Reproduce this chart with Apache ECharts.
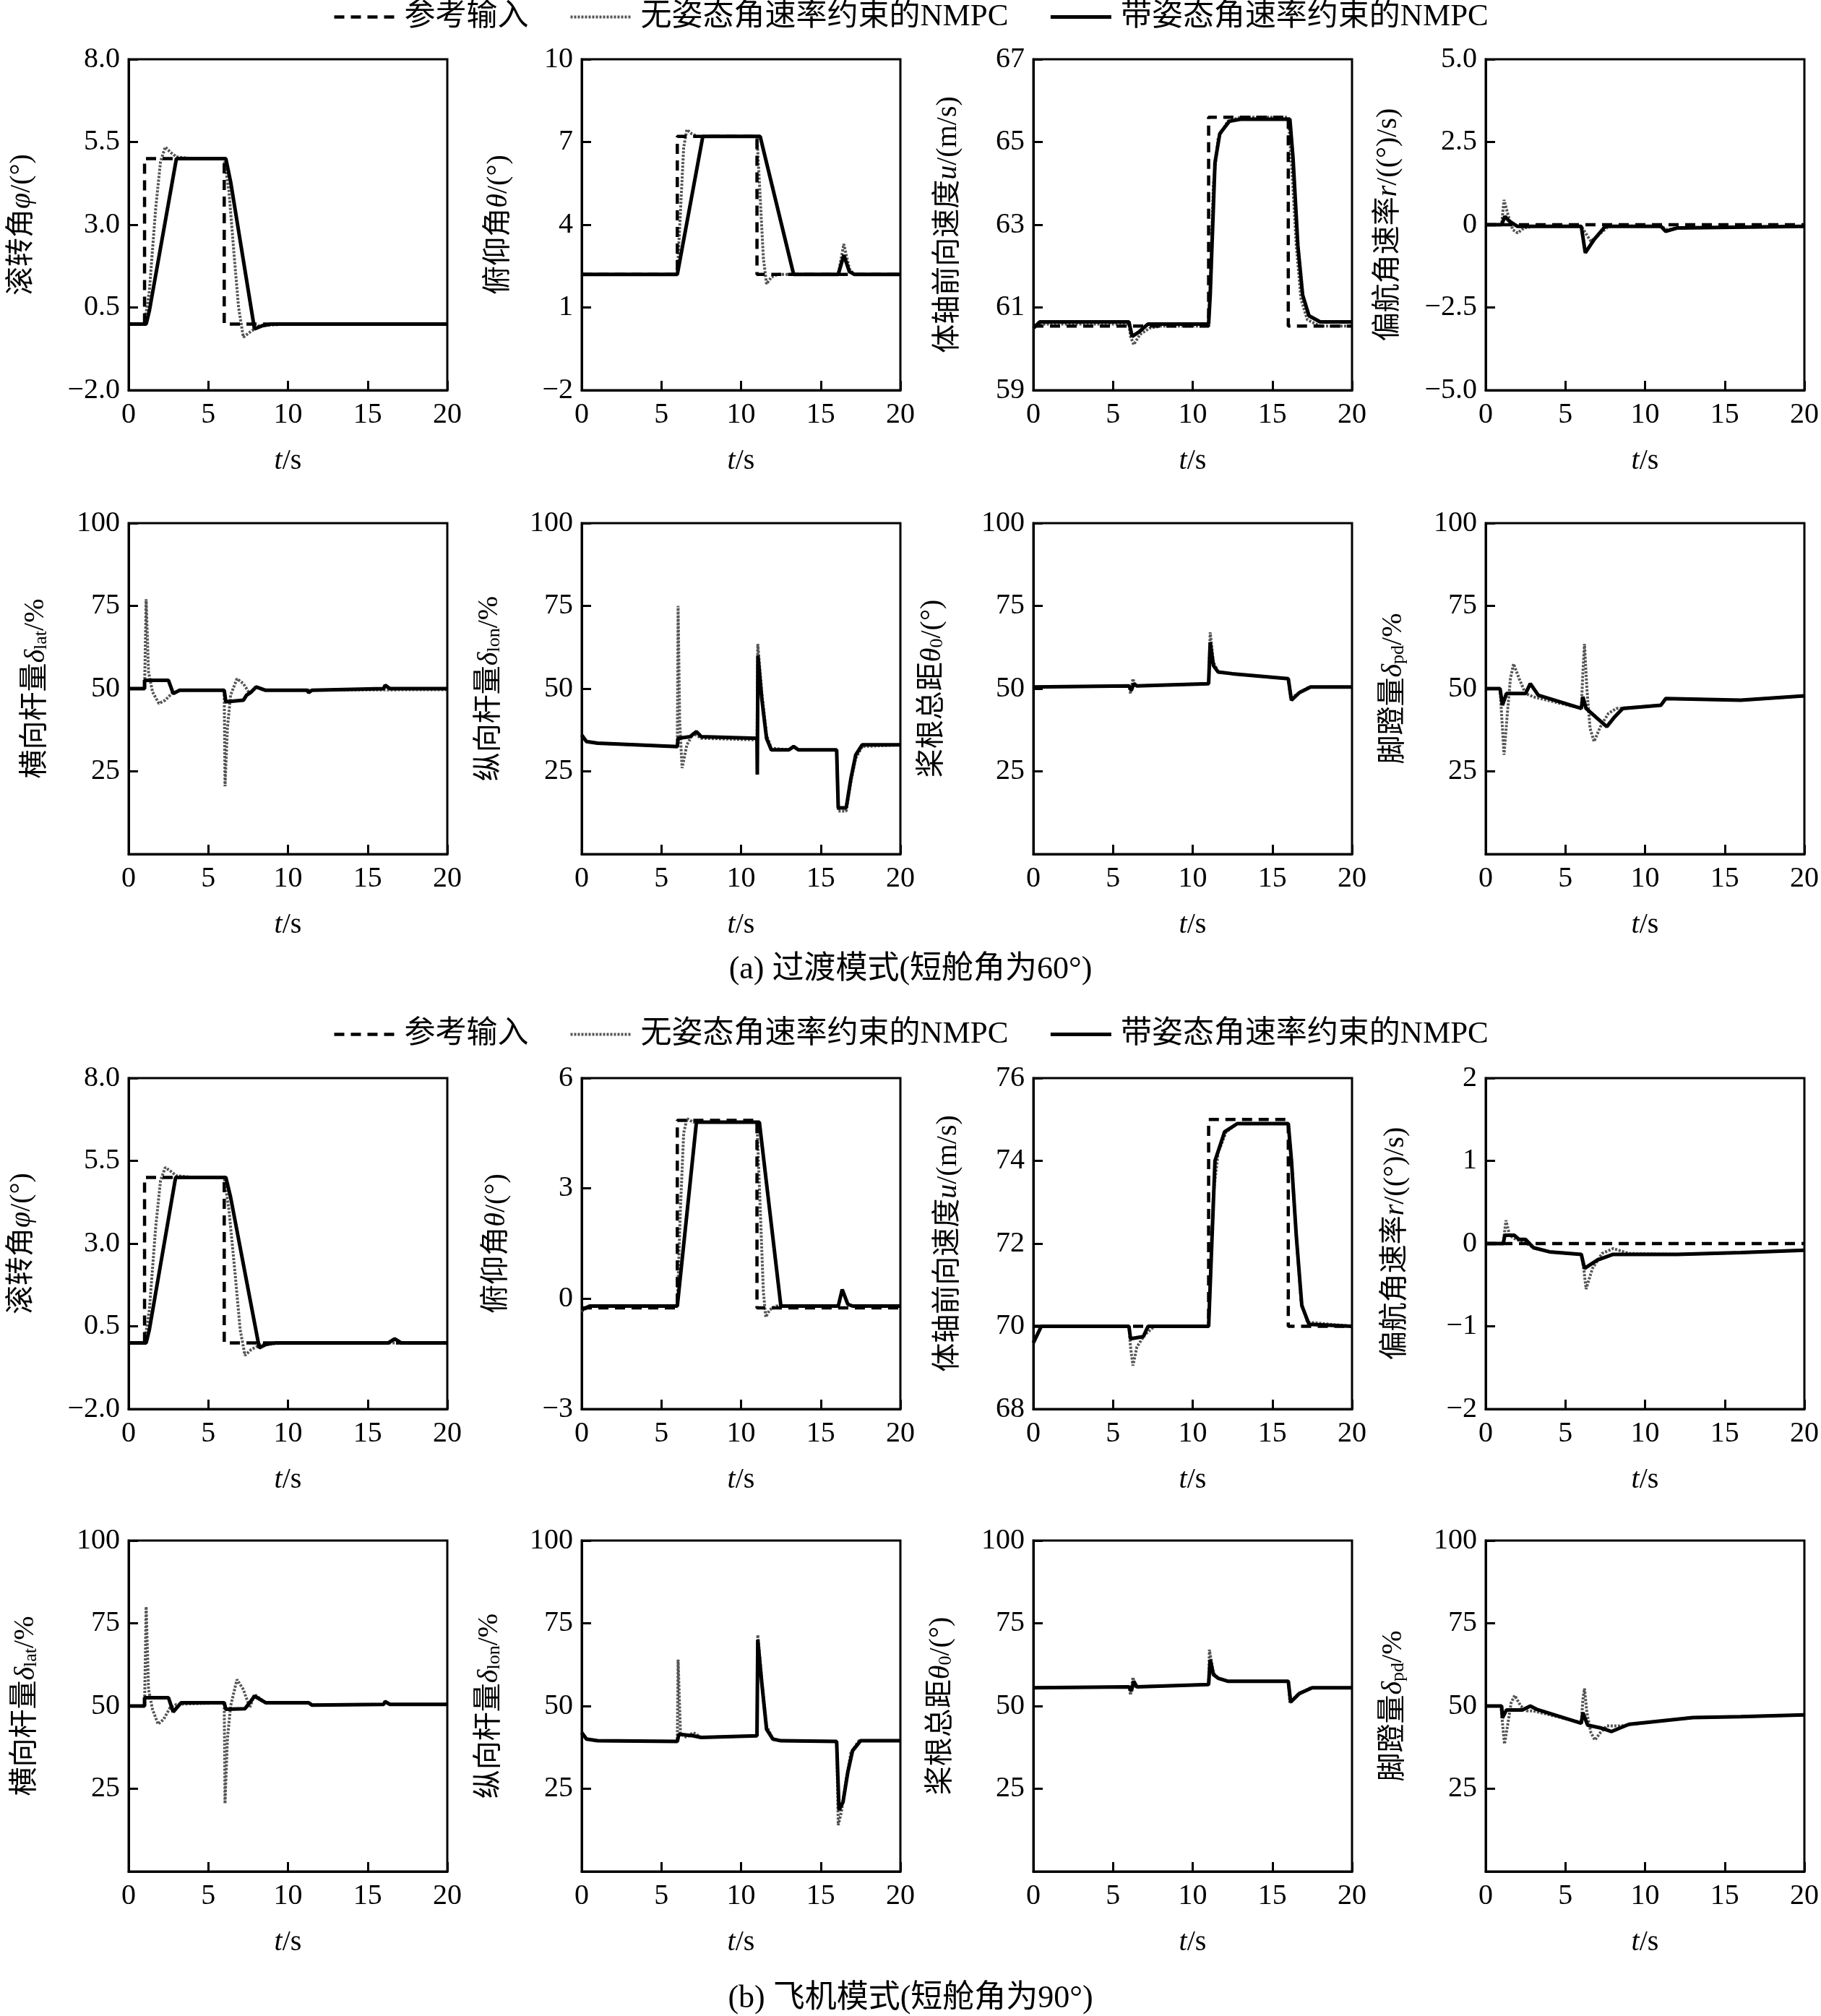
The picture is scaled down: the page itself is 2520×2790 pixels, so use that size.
<!DOCTYPE html>
<html>
<head>
<meta charset="utf-8">
<title>NMPC 响应曲线</title>
<script src="https://cdn.jsdelivr.net/npm/echarts@6/dist/echarts.min.js"></script>
<style>
  html, body { margin: 0; padding: 0; background: #fff; }
  #main { width: 2520px; height: 2790px; }
</style>
</head>
<body>
<div id="main"></div>
<script>
// ---------- 数据 ----------
var seriesNames = ['参考输入', '无姿态角速率约束的NMPC', '带姿态角速率约束的NMPC'];
var timeTicks = [0, 5, 10, 15, 20];

// 刻度
var rollTicks = [-2, 0.5, 3, 5.5, 8];
var rollTickText = ['−2.0', '0.5', '3.0', '5.5', '8.0'];
var pitchTicksA = [-2, 1, 4, 7, 10];
var pitchTickTextA = ['−2', '1', '4', '7', '10'];
var speedTicksA = [59, 61, 63, 65, 67];
var yawTicksA = [-5, -2.5, 0, 2.5, 5];
var yawTickTextA = ['−5.0', '−2.5', '0', '2.5', '5.0'];
var ctrlTicks = [25, 50, 75, 100];
var pitchTicksB = [-3, 0, 3, 6];
var pitchTickTextB = ['−3', '0', '3', '6'];
var speedTicksB = [68, 70, 72, 74, 76];
var yawTicksB = [-2, -1, 0, 1, 2];
var yawTickTextB = ['−2', '−1', '0', '1', '2'];

// (a) 过渡模式 —— 状态量
var rollRefA = [[0,0],[1,0],[1,5],[6,5],[6,0],[20,0]];
var rollFreeA = [[0,0],[1,0],[1.3,1],[1.7,3.5],[2,4.9],[2.3,5.35],[2.6,5.2],[3,5.05],[4,5],[6,5],[6.3,4],[6.6,2.2],[6.9,0.5],[7.2,-0.4],[7.6,-0.25],[8.2,-0.05],[10,0],[20,0]];
var rollConA = [[0,0],[1.1,0],[1.3,0.4],[3,5],[6.1,5],[6.4,4.3],[7.9,-0.15],[8.4,-0.05],[9,0],[20,0]];

var pitchRefA = [[0,2.2],[6,2.2],[6,7.2],[11,7.2],[11,2.2],[20,2.2]];
var pitchFreeA = [[0,2.2],[6,2.2],[6.2,4.5],[6.4,6.8],[6.6,7.45],[6.9,7.3],[7.3,7.2],[11,7.2],[11.2,5],[11.4,2.8],[11.6,1.85],[11.9,2.1],[12.3,2.2],[16.1,2.2],[16.45,3.3],[16.8,2.4],[17.1,2.2],[20,2.2]];
var pitchConA = [[0,2.2],[6,2.2],[7.6,7.2],[11.2,7.2],[13.3,2.2],[16.1,2.2],[16.45,2.9],[16.8,2.3],[17.1,2.2],[20,2.2]];

var speedRefA = [[0,60.55],[11,60.55],[11,65.6],[16,65.6],[16,60.55],[20,60.55]];
var speedFreeA = [[0,60.5],[0.5,60.6],[6,60.6],[6.1,60.3],[6.3,60.1],[6.7,60.35],[7.3,60.5],[8,60.55],[11,60.55],[11.1,61.5],[11.3,64],[11.6,65.1],[12.2,65.5],[13,65.6],[16,65.6],[16.2,64.5],[16.5,62.5],[16.8,61.2],[17.2,60.7],[18,60.55],[20,60.55]];
var speedConA = [[0,60.5],[0.4,60.65],[6,60.65],[6.2,60.3],[6.6,60.4],[7.2,60.6],[11,60.6],[11.1,61.3],[11.4,64.5],[11.7,65.2],[12.3,65.5],[13,65.55],[16.1,65.55],[16.3,64.6],[16.6,62.5],[16.9,61.3],[17.3,60.8],[18,60.65],[20,60.65]];

var yawRefA = [[0,0],[20,0]];
var yawFreeA = [[0,0],[1,0],[1.15,0.75],[1.4,0.3],[1.7,-0.15],[2,-0.25],[2.4,-0.1],[3,-0.05],[6,-0.05],[6.2,-0.2],[6.6,-0.5],[7.1,-0.3],[7.7,-0.05],[11,-0.05],[11.4,-0.15],[12,-0.1],[20,-0.05]];
var yawConA = [[0,0],[1,0],[1.2,0.25],[1.5,0.1],[2,-0.05],[6,-0.05],[6.25,-0.85],[6.8,-0.45],[7.5,-0.05],[11,-0.05],[11.3,-0.2],[12,-0.1],[20,-0.05]];

// (a) 过渡模式 —— 控制量
var latFreeA = [[0,50],[1,50],[1.1,77],[1.25,55],[1.5,49],[1.9,45.5],[2.3,46.5],[2.7,48.5],[3.2,49.5],[6,49.5],[6.05,20.5],[6.2,38],[6.4,48],[6.8,53],[7.2,51.5],[7.6,48.5],[8,50.5],[8.5,49.5],[20,49.7]];
var latConA = [[0,50],[1,50],[1,52.5],[2.5,52.5],[2.8,48.5],[3.2,49.5],[6,49.5],[6.1,46],[7.2,46.5],[7.4,48],[7.7,49],[8,50.5],[8.6,49.5],[11.2,49.5],[11.3,48.8],[11.5,49.5],[16,50],[16.1,51],[16.4,50],[20,50]];

var lonFreeA = [[0,36],[0.3,34],[1,33.5],[6,32.5],[6.05,75],[6.15,40],[6.3,26],[6.6,33],[7,36.5],[7.5,35],[11,34.5],[11.05,63.5],[11.3,49],[11.6,36],[11.9,32],[13,31.5],[13.3,32.5],[13.6,31.5],[16,31.5],[16.1,13],[16.6,13],[16.9,22],[17.2,29],[17.6,32.5],[20,33]];
var lonConA = [[0,36],[0.3,34],[1,33.5],[6,32.5],[6.05,35],[6.8,35.5],[7.2,37],[7.5,35.5],[11,35],[11.02,24],[11.06,60],[11.3,47],[11.6,35],[11.9,31.5],[13,31.5],[13.3,32.5],[13.6,31.5],[16,31.5],[16.1,14],[16.6,14],[16.9,23],[17.2,30],[17.6,33],[20,33]];

var colFreeA = [[0,50.5],[6,50.8],[6.1,48.5],[6.25,53],[6.4,50.8],[11,51.5],[11.1,67],[11.3,58],[11.6,55],[12.5,54.5],[16,53],[16.15,47],[16.6,48.5],[17.3,50.5],[20,50.5]];
var colConA = [[0,50.5],[6,50.8],[6.15,49.5],[6.3,51.5],[6.5,50.8],[11,51.5],[11.1,64],[11.3,57],[11.6,55],[12.5,54.5],[16,53],[16.2,46.5],[16.7,48.8],[17.4,50.5],[20,50.5]];

var pedFreeA = [[0,50],[0.9,50],[1,42],[1.15,30],[1.35,42],[1.55,53],[1.75,57.5],[2.1,53],[2.5,48.5],[3,47.5],[6,44],[6.1,55],[6.2,63.5],[6.35,50],[6.55,38],[6.8,34],[7.2,38.5],[7.7,42.5],[8.2,44],[11,45],[11.3,47],[16,46.5],[20,47.8]];
var pedConA = [[0,50],[0.9,50],[1.05,45],[1.3,48.5],[2.5,48.5],[2.8,51.5],[3.3,48],[6,44],[6.1,47.5],[6.3,44],[7,41],[7.6,38.5],[8.1,41.5],[8.6,44],[11,45],[11.3,47],[16,46.5],[20,47.8]];

// (b) 飞机模式 —— 状态量
var rollRefB = [[0,0],[1,0],[1,5],[6,5],[6,0],[20,0]];
var rollFreeB = [[0,0],[1,0],[1.3,1],[1.7,3.5],[2,4.9],[2.3,5.3],[2.6,5.2],[3,5.05],[4,5],[6,5],[6.3,4],[6.7,2],[7,0.4],[7.3,-0.38],[7.7,-0.2],[8.3,-0.05],[10,0],[20,0]];
var rollConB = [[0,0],[1.1,0],[1.3,0.4],[2.95,5],[6.1,5],[6.4,4.4],[8.2,-0.15],[8.6,-0.05],[9.2,0],[16.3,0],[16.7,0.12],[17.1,0],[20,0]];

var pitchRefB = [[0,-0.25],[6,-0.25],[6,4.85],[11,4.85],[11,-0.25],[20,-0.25]];
var pitchFreeB = [[0,-0.35],[0.5,-0.2],[6,-0.2],[6.2,2.5],[6.4,4.5],[6.6,4.9],[7,4.8],[11,4.8],[11.2,2.5],[11.4,0.2],[11.55,-0.5],[11.8,-0.3],[12.2,-0.2],[16.1,-0.2],[16.35,0.25],[16.7,-0.15],[17,-0.2],[20,-0.2]];
var pitchConB = [[0,-0.3],[0.5,-0.2],[6,-0.2],[7.2,4.8],[11.15,4.8],[12.5,-0.2],[16.1,-0.2],[16.35,0.25],[16.7,-0.15],[17,-0.2],[20,-0.2]];

var speedRefB = [[0,70],[11,70],[11,75],[16,75],[16,70],[20,70]];
var speedFreeB = [[0,69.6],[0.5,70],[6,70],[6.1,69.5],[6.25,69.05],[6.5,69.5],[7,69.8],[7.6,70],[11,70],[11.1,71],[11.3,73.2],[11.6,74.2],[12.1,74.7],[12.8,74.9],[16,74.9],[16.2,74],[16.5,72.2],[16.8,70.6],[17.2,70.1],[20,70]];
var speedConB = [[0,69.6],[0.5,70],[6,70],[6.1,69.7],[6.9,69.75],[7.2,70],[11,70],[11.1,71],[11.4,74],[12,74.7],[12.8,74.9],[16,74.9],[16.2,74],[16.5,72.2],[16.85,70.5],[17.3,70.05],[20,70]];

var yawRefB = [[0,0],[20,0]];
var yawFreeB = [[0,0],[1.1,0],[1.27,0.28],[1.5,0.1],[1.9,0.05],[2.4,0.02],[3,-0.05],[4,-0.1],[6,-0.13],[6.15,-0.3],[6.3,-0.55],[6.7,-0.3],[7.3,-0.12],[8,-0.06],[9,-0.12],[12,-0.13],[16,-0.11],[20,-0.08]];
var yawConB = [[0,0],[1.1,0],[1.2,0.1],[1.8,0.1],[2.1,0.05],[2.5,0.05],[3,-0.05],[4,-0.1],[6,-0.13],[6.2,-0.3],[7,-0.2],[8,-0.13],[12,-0.13],[16,-0.11],[20,-0.08]];

// (b) 飞机模式 —— 控制量
var latFreeB = [[0,50],[1,50],[1.1,80],[1.25,55],[1.5,49],[1.85,44.5],[2.2,46],[2.6,49.5],[3,50.5],[6,51],[6.05,20.5],[6.2,40],[6.4,50],[6.8,58],[7.2,55],[7.6,49.5],[7.9,53.5],[8.6,51],[11.3,51],[11.5,50.3],[16,50.5],[16.1,51.5],[16.4,50.5],[20,50.5]];
var latConB = [[0,50],[1,50],[1,52.5],[2.5,52.5],[2.8,48.2],[3.3,51],[6,51],[6.1,49],[7.3,49.2],[7.6,51],[7.9,53],[8.6,51],[11.3,51],[11.5,50.3],[16,50.5],[16.1,51.3],[16.4,50.5],[20,50.5]];

var lonFreeB = [[0,42],[0.3,40],[1,39.5],[6,39.3],[6.05,64],[6.2,41.5],[6.6,40.5],[7,42],[7.5,40.5],[11,41],[11.05,71.5],[11.3,58],[11.6,44],[12,40],[12.5,39.5],[16,39.3],[16.1,14],[16.3,18],[16.6,28],[16.9,36],[17.4,39.5],[20,39.5]];
var lonConB = [[0,42],[0.3,40],[1,39.5],[6,39.3],[6.1,41.5],[7,41],[7.5,40.5],[11,41],[11.05,70],[11.3,57],[11.6,43],[12,40],[12.5,39.5],[16,39.3],[16.15,18.5],[16.4,21],[16.7,30],[17,36.5],[17.5,39.5],[20,39.5]];

var colFreeB = [[0,55.5],[6,55.8],[6.1,53.3],[6.25,58.7],[6.4,55.8],[11,56.5],[11.05,67],[11.3,60],[11.6,58.4],[12.2,57.5],[16,57.5],[16.1,51],[16.6,53.5],[17.4,55.5],[20,55.5]];
var colConB = [[0,55.5],[6,55.8],[6.15,54.5],[6.3,57.5],[6.5,55.8],[11,56.5],[11.1,64],[11.3,59.5],[11.6,58.4],[12.2,57.5],[16,57.5],[16.15,51.2],[16.7,53.8],[17.5,55.5],[20,55.5]];

var pedFreeB = [[0,50],[0.95,50],[1.05,45],[1.18,38.5],[1.4,45],[1.6,51],[1.82,53.2],[2.2,50],[2.6,48.5],[3,48.5],[6,45],[6.1,52],[6.2,55.3],[6.35,48],[6.6,42],[6.85,39.7],[7.2,42],[7.6,44],[8.5,44],[10,45],[13,46.5],[16,46.8],[20,47.3]];
var pedConB = [[0,50],[1,50],[1.05,46.4],[1.3,48.8],[2.3,48.8],[2.8,50],[3.2,49],[6,44.8],[6.1,48],[6.4,44.2],[7.2,43.4],[7.9,42.3],[8.5,43.5],[9,44.5],[10,45],[13,46.5],[16,46.8],[20,47.3]];

// ---------- 子图配置 ----------
var panels = [
    {name: '滚转角{i|φ}/(°)', min: -2, max: 8, ticks: rollTicks, text: rollTickText, ref: rollRefA, free: rollFreeA, con: rollConA, gap: 128},
    {name: '俯仰角{i|θ}/(°)', min: -2, max: 10, ticks: pitchTicksA, text: pitchTickTextA, ref: pitchRefA, free: pitchFreeA, con: pitchConA, gap: 95},
    {name: '体轴前向速度{i|u}/(m/s)', min: 59, max: 67, ticks: speedTicksA, text: null, ref: speedRefA, free: speedFreeA, con: speedConA, gap: 98},
    {name: '偏航角速率{i|r}/((°)/s)', min: -5, max: 5, ticks: yawTicksA, text: yawTickTextA, ref: yawRefA, free: yawFreeA, con: yawConA, gap: 115},
    {name: '横向杆量{i|δ}{s|lat}/%', min: 0, max: 100, ticks: ctrlTicks, text: null, ref: null, free: latFreeA, con: latConA, gap: 108},
    {name: '纵向杆量{i|δ}{s|lon}/%', min: 0, max: 100, ticks: ctrlTicks, text: null, ref: null, free: lonFreeA, con: lonConA, gap: 108},
    {name: '桨根总距{i|θ}{s|0}/(°)', min: 0, max: 100, ticks: ctrlTicks, text: null, ref: null, free: colFreeA, con: colConA, gap: 120},
    {name: '脚蹬量{i|δ}{s|pd}/%', min: 0, max: 100, ticks: ctrlTicks, text: null, ref: null, free: pedFreeA, con: pedConA, gap: 108},
    {name: '滚转角{i|φ}/(°)', min: -2, max: 8, ticks: rollTicks, text: rollTickText, ref: rollRefB, free: rollFreeB, con: rollConB, gap: 128},
    {name: '俯仰角{i|θ}/(°)', min: -3, max: 6, ticks: pitchTicksB, text: pitchTickTextB, ref: pitchRefB, free: pitchFreeB, con: pitchConB, gap: 98},
    {name: '体轴前向速度{i|u}/(m/s)', min: 68, max: 76, ticks: speedTicksB, text: null, ref: speedRefB, free: speedFreeB, con: speedConB, gap: 98},
    {name: '偏航角速率{i|r}/((°)/s)', min: -2, max: 2, ticks: yawTicksB, text: yawTickTextB, ref: yawRefB, free: yawFreeB, con: yawConB, gap: 105},
    {name: '横向杆量{i|δ}{s|lat}/%', min: 0, max: 100, ticks: ctrlTicks, text: null, ref: null, free: latFreeB, con: latConB, gap: 122},
    {name: '纵向杆量{i|δ}{s|lon}/%', min: 0, max: 100, ticks: ctrlTicks, text: null, ref: null, free: lonFreeB, con: lonConB, gap: 108},
    {name: '桨根总距{i|θ}{s|0}/(°)', min: 0, max: 100, ticks: ctrlTicks, text: null, ref: null, free: colFreeB, con: colConB, gap: 108},
    {name: '脚蹬量{i|δ}{s|pd}/%', min: 0, max: 100, ticks: ctrlTicks, text: null, ref: null, free: pedFreeB, con: pedConB, gap: 108}
];

var FONT = '"Liberation Serif", "Noto Sans CJK SC", serif';
var colLeft = [178, 805, 1430, 2056];
var rowTop = [82, 724, 1492, 2132];
var plotW = 441, plotH = 458;

var grids = [], xAxes = [], yAxes = [], series = [];

function tickFormatter(p) {
    return function (v) {
        var k = p.ticks.indexOf(v);
        if (p.text && k >= 0) return p.text[k];
        return String(v).replace('-', '−');
    };
}

var lineFree = {color: '#555', width: 4, type: [3, 2]};
var lineCon = {color: '#000', width: 5, type: 'solid'};
var lineRef = {color: '#000', width: 4.5, type: [14, 9]};

panels.forEach(function (p, k) {
    var row = Math.floor(k / 4), col = k % 4;
    grids.push({
        left: colLeft[col], top: rowTop[row], width: plotW, height: plotH,
        show: true, borderColor: '#000', borderWidth: 3, backgroundColor: 'transparent'
    });
    xAxes.push({
        type: 'value', gridIndex: k, min: 0, max: 20, interval: 5,
        name: '{i|t}/s', nameLocation: 'middle', nameGap: 78,
        nameTextStyle: {fontFamily: FONT, fontSize: 40, color: '#000',
            rich: {i: {fontFamily: FONT, fontSize: 40, fontStyle: 'italic', color: '#000'}}},
        axisLine: {show: true, onZero: false, lineStyle: {color: '#000', width: 3}},
        axisTick: {show: true, inside: true, length: 13, lineStyle: {color: '#000', width: 3}},
        axisLabel: {fontFamily: FONT, fontSize: 40, color: '#000', margin: 14,
            customValues: timeTicks},
        splitLine: {show: false}
    });
    yAxes.push({
        type: 'value', gridIndex: k, min: p.min, max: p.max,
        name: p.name, nameLocation: 'middle', nameGap: p.gap, nameRotate: 90,
        nameTextStyle: {fontFamily: FONT, fontSize: 40, color: '#000',
            rich: {
                i: {fontFamily: FONT, fontSize: 40, fontStyle: 'italic', color: '#000'},
                s: {fontFamily: FONT, fontSize: 26, color: '#000', verticalAlign: 'bottom', padding: [14, 0, 0, 0]}
            }},
        axisLine: {show: true, onZero: false, lineStyle: {color: '#000', width: 3}},
        axisTick: {show: true, inside: true, length: 13, lineStyle: {color: '#000', width: 3},
            customValues: p.ticks},
        axisLabel: {fontFamily: FONT, fontSize: 40, color: '#000', margin: 12,
            customValues: p.ticks, formatter: tickFormatter(p)},
        splitLine: {show: false}
    });
    series.push({
        name: seriesNames[1], type: 'line', xAxisIndex: k, yAxisIndex: k, data: p.free,
        symbol: 'none', showSymbol: false, silent: true, color: '#555',
        lineStyle: lineFree, z: 2
    });
    series.push({
        name: seriesNames[2], type: 'line', xAxisIndex: k, yAxisIndex: k, data: p.con,
        symbol: 'none', showSymbol: false, silent: true, color: '#000',
        lineStyle: lineCon, z: 3
    });
    if (p.ref) {
        series.push({
            name: seriesNames[0], type: 'line', xAxisIndex: k, yAxisIndex: k, data: p.ref,
            symbol: 'none', showSymbol: false, silent: true, color: '#000',
            lineStyle: lineRef, z: 4
        });
    }
});

var legendBase = {
    left: 1260, orient: 'horizontal', padding: 0,
    itemWidth: 84, itemHeight: 20, itemGap: 56, selectedMode: false,
    itemStyle: {color: 'transparent', borderColor: 'transparent', borderWidth: 0, opacity: 0},
    textStyle: {fontFamily: FONT, fontSize: 43, color: '#000', padding: [0, 0, 0, 8]},
    data: [
        {name: seriesNames[0], lineStyle: {width: 4.5, type: [14, 9], color: '#000'}},
        {name: seriesNames[1], lineStyle: {width: 4, type: [3, 2], color: '#555'}},
        {name: seriesNames[2], lineStyle: {width: 5, type: 'solid', color: '#000'}}
    ]
};

var option = {
    backgroundColor: '#fff',
    animation: false,
    title: [
        {text: '(a) 过渡模式(短舱角为60°)', left: 'center', top: 1320, padding: 0,
            textStyle: {fontFamily: FONT, fontSize: 44, fontWeight: 'normal', color: '#000'}},
        {text: '(b) 飞机模式(短舱角为90°)', left: 'center', top: 2744, padding: 0,
            textStyle: {fontFamily: FONT, fontSize: 44, fontWeight: 'normal', color: '#000'}}
    ],
    legend: [
        Object.assign({}, legendBase, {left: 'center', top: 2}),
        Object.assign({}, legendBase, {left: 'center', top: 1410})
    ],
    grid: grids,
    xAxis: xAxes,
    yAxis: yAxes,
    series: series
};

var myChart = echarts.init(document.getElementById('main'), null, {renderer: 'canvas'});
myChart.setOption(option);
window.onresize = myChart.resize;
</script>
</body>
</html>
